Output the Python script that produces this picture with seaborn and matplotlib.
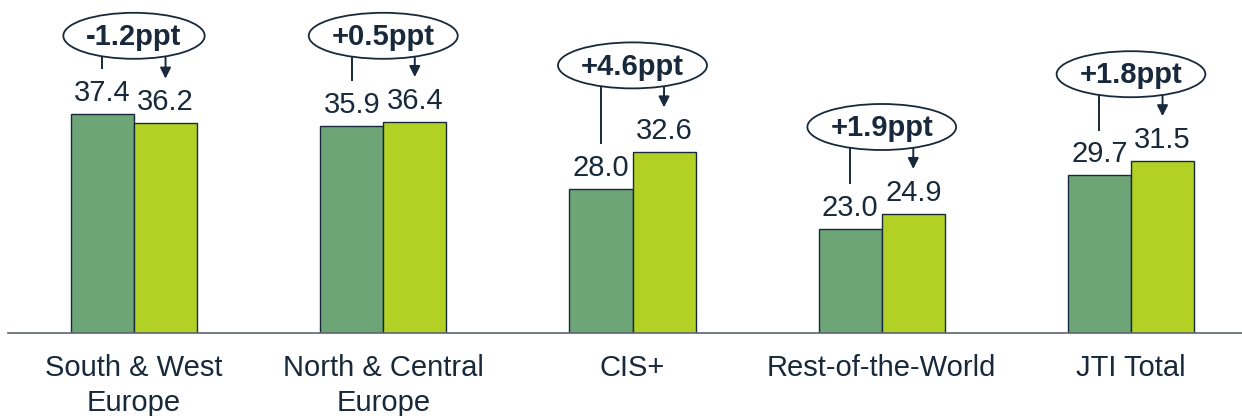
import matplotlib
matplotlib.use("Agg")
import matplotlib.pyplot as plt
from matplotlib.patches import Ellipse
import numpy as np
import pandas as pd
import seaborn as sns

# Data
regions = ["South & West\nEurope", "North & Central\nEurope", "CIS+", "Rest-of-the-World", "JTI Total"]
prior = [37.4, 35.9, 28.0, 23.0, 29.7]
current = [36.2, 36.4, 32.6, 24.9, 31.5]
changes = ["-1.2ppt", "+0.5ppt", "+4.6ppt", "+1.9ppt", "+1.8ppt"]
periods = ["Prior period", "Current period"]

DARK = "#6ea577"
LIGHT = "#b2d124"
INK = "#17293a"

sns.set_theme(style="white")
plt.rcParams["font.family"] = ["Liberation Sans", "DejaVu Sans"]

df = pd.DataFrame({
    "region": regions * 2,
    "share": prior + current,
    "period": [periods[0]] * len(regions) + [periods[1]] * len(regions),
})

W, H = 12.42, 4.16
fig = plt.figure(figsize=(W, H), dpi=100)
ax = fig.add_axes([0, 83 / 416, 1, 333 / 416])

sns.barplot(data=df, x="region", y="share", hue="period", order=regions,
            hue_order=periods, palette=[DARK, LIGHT], saturation=1,
            width=0.506, edgecolor=INK, linewidth=1.0, legend=False, ax=ax)

ymin = 10.0
px_per_unit = 8.0
ax.set_ylim(ymin, ymin + 333 / px_per_unit)
x_px_unit = 249.25
ax.set_xlim(-134 / x_px_unit, (1242 - 134) / x_px_unit)

for s in ["top", "right", "left"]:
    ax.spines[s].set_visible(False)
ax.spines["bottom"].set_color("#5b6670")
ax.spines["bottom"].set_linewidth(1.2)
ax.spines["bottom"].set_bounds(-126 / x_px_unit, (1242 - 134) / x_px_unit)
ax.set_yticks([])
ax.set_xlabel("")
ax.set_ylabel("")
ax.tick_params(axis="x", length=0, pad=15)
ax.set_xticks(range(len(regions)))
ax.set_xticklabels(regions, fontsize=21, color=INK, linespacing=1.33)

# Value labels on top of each bar
for container in ax.containers:
    for bar in container:
        h = bar.get_height()
        ax.annotate(f"{h:.1f}", (bar.get_x() + bar.get_width() / 2, h),
                    xytext=(0, 5), textcoords="offset points",
                    ha="center", va="bottom", fontsize=21, color=INK)

fig.canvas.draw()
renderer = fig.canvas.get_renderer()

bw = 0.253
ell_h = 46 / px_per_unit
for i, (p, c, lab) in enumerate(zip(prior, current, changes)):
    cy = min(max(p, c) + 10.7, 47.0)
    t = ax.text(i, cy, lab, ha="center", va="center", fontsize=21,
                fontweight="bold", color=INK, zorder=5)
    tw = t.get_window_extent(renderer).width
    ell_w = (tw + 46) / x_px_unit
    ax.add_patch(Ellipse((i, cy + 0.15), ell_w, ell_h, facecolor="white",
                         edgecolor=INK, linewidth=1.3, zorder=4))
    a, b = ell_w / 2, ell_h / 2

    # connector from the prior-period bar
    xl = i - bw / 2
    yl = cy + 0.15 - b * np.sqrt(max(0.0, 1 - ((xl - i) / a) ** 2))
    ax.plot([xl, xl], [yl, p + 5.6], color=INK, lw=1.4, zorder=3,
            solid_capstyle="butt")

    # arrow pointing to the current-period bar
    xr = i + bw / 2
    yr = cy + 0.15 - b * np.sqrt(max(0.0, 1 - ((xr - i) / a) ** 2))
    ax.annotate("", xy=(xr, c + 5.6), xytext=(xr, yr),
                arrowprops=dict(arrowstyle="-|>", color=INK, lw=1.4,
                                mutation_scale=16, shrinkA=0, shrinkB=0),
                zorder=3)

fig.savefig("out.png", dpi=100)
